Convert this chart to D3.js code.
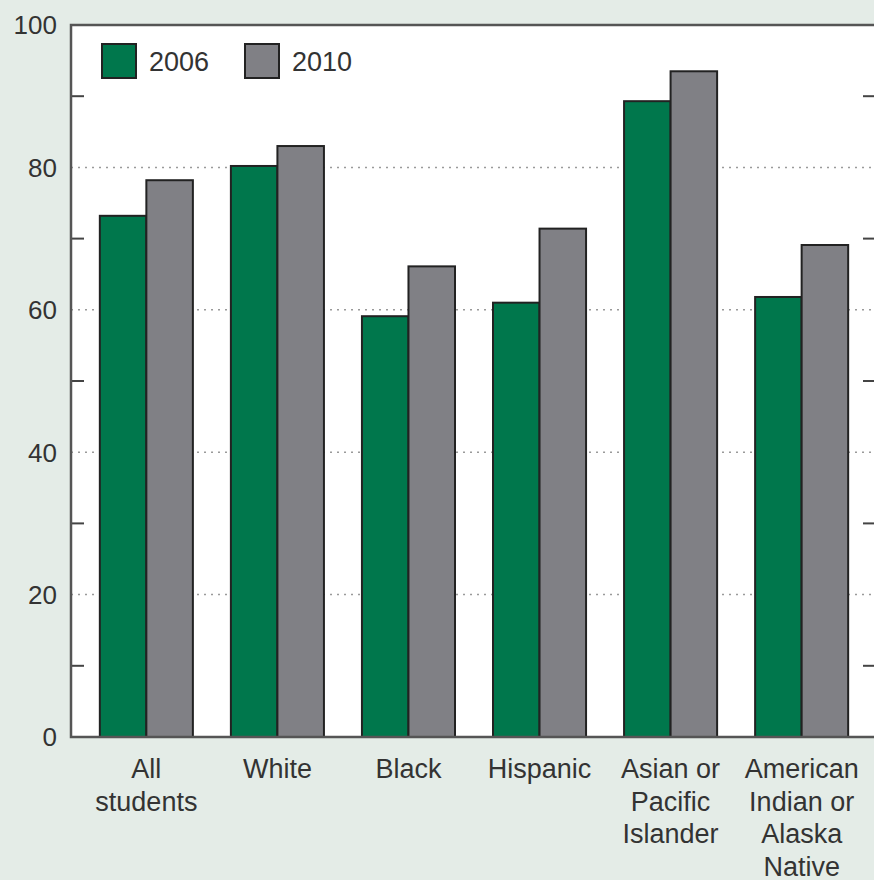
<!DOCTYPE html>
<html>
<head>
<meta charset="utf-8">
<script src="https://cdn.jsdelivr.net/npm/d3@7"></script>
<style>
  html, body { margin: 0; padding: 0; background: #e4ece7; }
  svg { display: block; font-family: "Liberation Sans", Arial, sans-serif; }
</style>
</head>
<body>
<svg id="chart" width="874" height="880"></svg>
<script>
// Category labels (multi-line) and series values (percent)
const categories = [
  ["All", "students"],
  ["White"],
  ["Black"],
  ["Hispanic"],
  ["Asian or", "Pacific", "Islander"],
  ["American", "Indian or", "Alaska", "Native"]
];
const seriesNames = ["2006", "2010"];
const values2006 = [73.2, 80.2, 59.1, 61.0, 89.3, 61.8];
const values2010 = [78.2, 83.0, 66.1, 71.4, 93.5, 69.1];
const yTicks = [0, 20, 40, 60, 80, 100];
const minorTicks = [10, 30, 50, 70, 90];

const colors = { "2006": "#00774c", "2010": "#808085" };

const svg = d3.select("#chart");
const plot = { left: 71, right: 877, top: 25, bottom: 737 };

const keys = categories.map(c => c.join(" "));
const x = d3.scaleBand()
  .domain(keys)
  .range([plot.left, plot.right])
  .paddingInner(0.29)
  .paddingOuter(0.22);
const xs = d3.scaleBand().domain(seriesNames).range([0, x.bandwidth()]);
const y = d3.scaleLinear().domain([0, 100]).range([plot.bottom, plot.top]);

// plot background
svg.append("rect")
  .attr("x", plot.left).attr("y", plot.top)
  .attr("width", plot.right - plot.left).attr("height", plot.bottom - plot.top)
  .attr("fill", "#ffffff");

// dotted gridlines
svg.append("g")
  .selectAll("line")
  .data(yTicks.filter(d => d > 0 && d < 100))
  .join("line")
  .attr("x1", plot.left).attr("x2", plot.right)
  .attr("y1", d => y(d)).attr("y2", d => y(d))
  .attr("stroke", "#9a9a9a")
  .attr("stroke-width", 1.5)
  .attr("stroke-dasharray", "2,5");

// inward minor ticks on both sides
const tickLen = 13;
const tg = svg.append("g").attr("stroke", "#444").attr("stroke-width", 2);
tg.selectAll("line.l").data(minorTicks).join("line").attr("class", "l")
  .attr("x1", plot.left).attr("x2", plot.left + tickLen)
  .attr("y1", d => y(d)).attr("y2", d => y(d));
tg.selectAll("line.r").data(minorTicks).join("line").attr("class", "r")
  .attr("x1", plot.right - tickLen - 1).attr("x2", plot.right)
  .attr("y1", d => y(d)).attr("y2", d => y(d));

// bars
const rows = keys.map((k, i) => ({ key: k, v: [values2006[i], values2010[i]] }));
const groups = svg.append("g").selectAll("g")
  .data(rows).join("g")
  .attr("transform", d => `translate(${x(d.key)},0)`);
groups.selectAll("rect")
  .data(d => seriesNames.map((s, j) => ({ s, v: d.v[j] })))
  .join("rect")
  .attr("x", d => xs(d.s))
  .attr("y", d => y(d.v))
  .attr("width", xs.bandwidth())
  .attr("height", d => y(0) - y(d.v))
  .attr("fill", d => colors[d.s])
  .attr("stroke", "#222")
  .attr("stroke-width", 2);

// frame: left, top and bottom lines
const frame = svg.append("g").attr("stroke", "#555").attr("stroke-width", 2.5).attr("fill", "none");
frame.append("path")
  .attr("d", `M${plot.right},${plot.top}H${plot.left}V${plot.bottom}H${plot.right}`);

// y axis labels
svg.append("g")
  .selectAll("text")
  .data(yTicks)
  .join("text")
  .attr("x", 57)
  .attr("y", d => y(d))
  .attr("dy", "0.36em")
  .attr("text-anchor", "end")
  .attr("font-size", 26)
  .attr("fill", "#333")
  .text(d => d);

// category labels
const cl = svg.append("g").selectAll("text")
  .data(categories).join("text")
  .attr("text-anchor", "middle")
  .attr("font-size", 27)
  .attr("fill", "#333")
  .attr("transform", (d, i) => `translate(${x(keys[i]) + x.bandwidth() / 2},778)`);
cl.selectAll("tspan")
  .data(d => d).join("tspan")
  .attr("x", 0)
  .attr("y", (d, i) => i * 32.5)
  .text(d => d);

// legend
const legendPos = [102, 245];
const lg = svg.append("g").selectAll("g")
  .data(seriesNames).join("g")
  .attr("transform", (d, i) => `translate(${legendPos[i]},44)`);
lg.append("rect")
  .attr("width", 34).attr("height", 34)
  .attr("fill", d => colors[d])
  .attr("stroke", "#222").attr("stroke-width", 2);
lg.append("text")
  .attr("x", 47).attr("y", 27)
  .attr("font-size", 27)
  .attr("fill", "#333")
  .text(d => d);
</script>
</body>
</html>
